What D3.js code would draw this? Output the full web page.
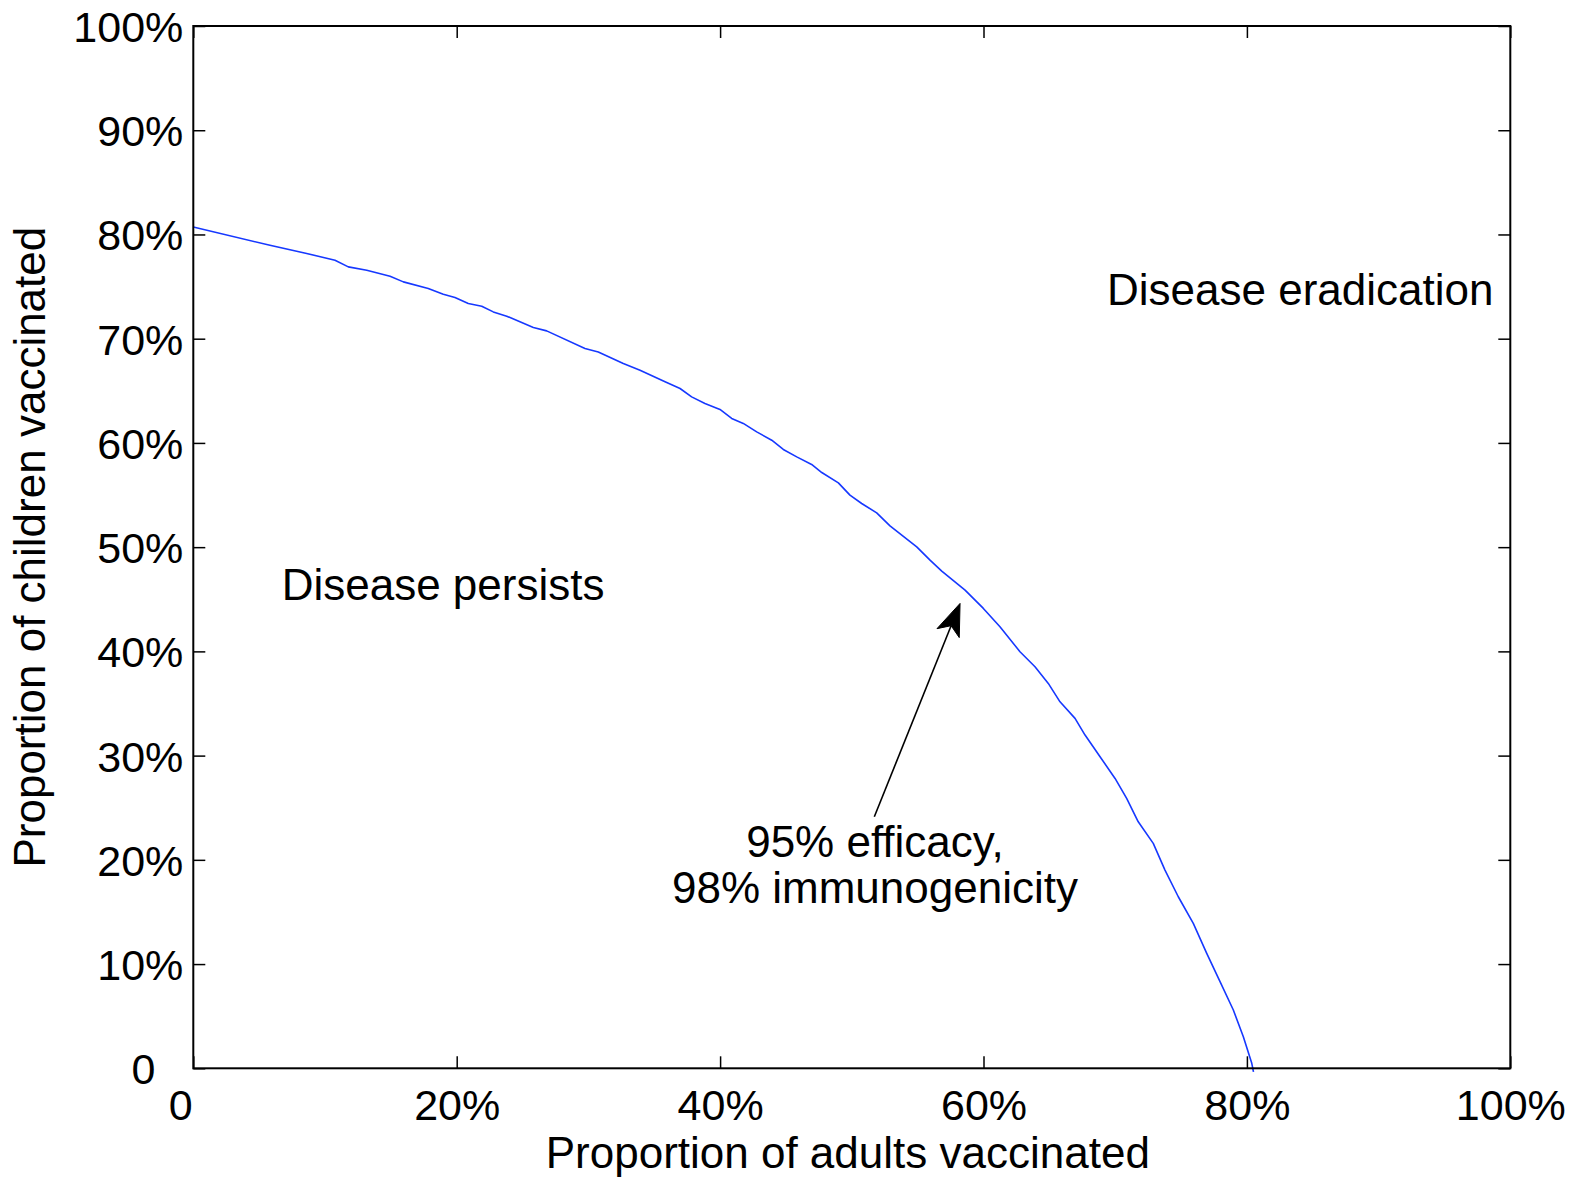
<!DOCTYPE html>
<html>
<head>
<meta charset="utf-8">
<title>Vaccination threshold</title>
<script src="https://cdn.jsdelivr.net/npm/d3@7"></script>
<style>
  html, body { margin: 0; padding: 0; background: #fff; }
  svg { display: block; }
  text { font-family: "Liberation Sans", Arial, Helvetica, sans-serif; fill: #000; }
</style>
</head>
<body>
<svg id="chart" width="1578" height="1177"></svg>
<script>
// Eradication threshold: adult coverage (%) vs. child coverage (%)
const adultCoverage = [
  0, 5.82, 8.61, 10.76, 11.77, 13.17, 14.94, 15.95, 17.84, 18.98, 19.87, 20.88, 21.90,
  22.78, 23.80, 25.82, 26.83, 29.74, 30.75, 32.65, 33.92, 35.82, 36.96, 37.84, 38.85,
  39.99, 40.88, 41.76, 42.78, 43.92, 44.80, 45.82, 46.95, 47.72, 48.98, 49.86, 50.75,
  51.89, 52.90, 54.93, 55.94, 56.83, 58.60, 59.99, 61.25, 62.77, 63.91, 64.92, 65.81,
  66.95, 67.71, 68.85, 69.99, 70.87, 71.75, 72.89, 73.78, 74.79, 75.93, 76.95, 77.96,
  78.97, 79.73, 80.37, 80.50
];
const childCoverage = [
  80.72, 78.96, 78.17, 77.53, 76.89, 76.57, 75.99, 75.45, 74.81, 74.27, 73.95, 73.37, 73.11,
  72.57, 72.16, 71.07, 70.75, 69.06, 68.73, 67.62, 66.98, 65.86, 65.22, 64.42, 63.78,
  63.21, 62.35, 61.87, 61.06, 60.26, 59.37, 58.66, 57.93, 57.16, 56.17, 54.99, 54.19,
  53.29, 52.04, 50.03, 48.75, 47.70, 45.88, 44.12, 42.36, 39.96, 38.52, 36.93, 35.16,
  33.57, 31.97, 29.89, 27.81, 25.90, 23.65, 21.58, 19.02, 16.46, 13.91, 11.03, 8.31,
  5.59, 3.03, 0.48, -0.34
];

const xTicks = [0, 20, 40, 60, 80, 100];
const xTickLabels = ["0", "20%", "40%", "60%", "80%", "100%"];
const yTicks = [0, 10, 20, 30, 40, 50, 60, 70, 80, 90, 100];
const yTickLabels = ["0", "10%", "20%", "30%", "40%", "50%", "60%", "70%", "80%", "90%", "100%"];

const xTitle = "Proportion of adults vaccinated";
const yTitle = "Proportion of children vaccinated";

// Region labels and the curve annotation, in data units
const regionLabels = [
  { text: "Disease eradication", x: 69.38, y: 73.2 },
  { text: "Disease persists", x: 6.71, y: 44.92 }
];
const curveNoteLines = ["95% efficacy,", "98% immunogenicity"];
const curveNoteAt = { x: 51.76, y: [20.30, 15.85] };
const arrowFrom = { x: 51.71, y: 24.13 };
const arrowTo = { x: 58.22, y: 44.60 };

// Layout
const W = 1578, H = 1177;
const plot = { left: 193.3, right: 1510.3, top: 26, bottom: 1068.3 };

const svg = d3.select("#chart");
svg.append("rect").attr("width", W).attr("height", H).attr("fill", "#fff");

const x = d3.scaleLinear().domain([0, 100]).range([plot.left, plot.right]);
const y = d3.scaleLinear().domain([0, 100]).range([plot.bottom, plot.top]);

const TICK = 12;
const tickFont = 43;

// Bottom axis (inward ticks)
const gx = svg.append("g")
  .attr("transform", `translate(0,${plot.bottom})`)
  .call(d3.axisBottom(x).tickValues(xTicks)
    .tickFormat((d, i) => xTickLabels[i])
    .tickSizeInner(-TICK).tickSizeOuter(0).tickPadding(0));
gx.select(".domain").remove();
gx.selectAll(".tick line").attr("stroke", "#000").attr("stroke-width", 1.5);
gx.selectAll(".tick text")
  .attr("font-size", tickFont)
  .attr("y", 52)
  .attr("dy", 0)
  .attr("dx", (d, i) => xTickLabels[i].includes("%") ? 0 : -13);

// Left axis (inward ticks)
const gy = svg.append("g")
  .attr("transform", `translate(${plot.left},0)`)
  .call(d3.axisLeft(y).tickValues(yTicks)
    .tickFormat((d, i) => yTickLabels[i])
    .tickSizeInner(-TICK).tickSizeOuter(0).tickPadding(10));
gy.select(".domain").remove();
gy.selectAll(".tick line").attr("stroke", "#000").attr("stroke-width", 1.5);
gy.selectAll(".tick text")
  .attr("font-size", tickFont)
  .attr("dy", "0.36em")
  .attr("dx", (d, i) => yTickLabels[i].includes("%") ? 0 : -28);

// Mirrored ticks on top and right edges
const gt = svg.append("g")
  .attr("transform", `translate(0,${plot.top})`)
  .call(d3.axisTop(x).tickValues(xTicks).tickFormat("")
    .tickSizeInner(-TICK).tickSizeOuter(0));
gt.select(".domain").remove();
gt.selectAll(".tick line").attr("stroke", "#000").attr("stroke-width", 1.5);

const gr = svg.append("g")
  .attr("transform", `translate(${plot.right},0)`)
  .call(d3.axisRight(y).tickValues(yTicks).tickFormat("")
    .tickSizeInner(-TICK).tickSizeOuter(0));
gr.select(".domain").remove();
gr.selectAll(".tick line").attr("stroke", "#000").attr("stroke-width", 1.5);

// Threshold curve
const pts = adultCoverage.map((a, i) => [a, childCoverage[i]]);
svg.append("path")
  .datum(pts)
  .attr("fill", "none")
  .attr("stroke", "#1638ff")
  .attr("stroke-width", 1.6)
  .attr("stroke-linejoin", "round")
  .attr("d", d3.line().x(d => x(d[0])).y(d => y(d[1])));

// Plot frame
svg.append("rect")
  .attr("x", plot.left).attr("y", plot.top)
  .attr("width", plot.right - plot.left)
  .attr("height", plot.bottom - plot.top)
  .attr("fill", "none")
  .attr("stroke", "#000")
  .attr("stroke-width", 2);

// Axis titles
svg.append("text")
  .attr("x", (plot.left + plot.right) / 2 - 4)
  .attr("y", 1168)
  .attr("text-anchor", "middle")
  .attr("font-size", 44)
  .text(xTitle);

svg.append("text")
  .attr("transform", `translate(45,${(plot.top + plot.bottom) / 2}) rotate(-90)`)
  .attr("text-anchor", "middle")
  .attr("font-size", 44)
  .text(yTitle);

// Region labels
svg.selectAll("text.region")
  .data(regionLabels)
  .join("text")
  .attr("class", "region")
  .attr("x", d => x(d.x))
  .attr("y", d => y(d.y))
  .attr("font-size", 44)
  .text(d => d.text);

// Annotation text
svg.selectAll("text.note")
  .data(curveNoteLines)
  .join("text")
  .attr("class", "note")
  .attr("x", x(curveNoteAt.x))
  .attr("y", (d, i) => y(curveNoteAt.y[i]))
  .attr("text-anchor", "middle")
  .attr("font-size", 44)
  .text(d => d);

// Annotation arrow with a notched filled head
const x0 = x(arrowFrom.x), y0 = y(arrowFrom.y);
const x1 = x(arrowTo.x), y1 = y(arrowTo.y);
const len = Math.hypot(x1 - x0, y1 - y0);
const ux = (x1 - x0) / len, uy = (y1 - y0) / len;
const nx = -uy, ny = ux;
const headLen = 32, headHalf = 12, notch = 24;
svg.append("line")
  .attr("x1", x0).attr("y1", y0)
  .attr("x2", x1 - ux * notch).attr("y2", y1 - uy * notch)
  .attr("stroke", "#000").attr("stroke-width", 1.6);
const head = [
  [x1, y1],
  [x1 - ux * headLen + nx * headHalf, y1 - uy * headLen + ny * headHalf],
  [x1 - ux * notch, y1 - uy * notch],
  [x1 - ux * headLen - nx * headHalf, y1 - uy * headLen - ny * headHalf]
];
svg.append("path")
  .attr("d", d3.line()(head) + "Z")
  .attr("fill", "#000")
  .attr("stroke", "#000")
  .attr("stroke-width", 1)
  .attr("stroke-linejoin", "miter");
</script>
</body>
</html>
